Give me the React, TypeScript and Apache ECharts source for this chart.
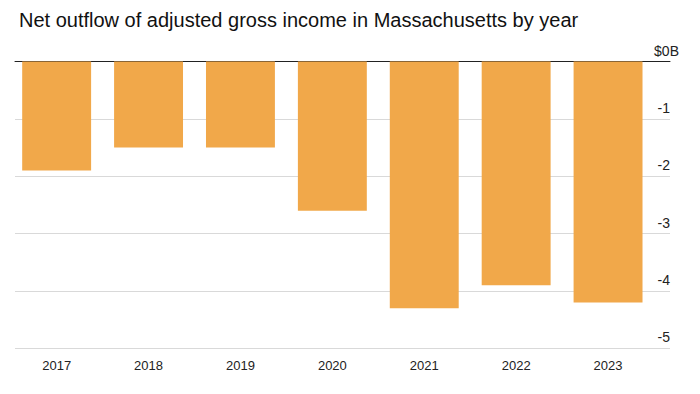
import React, { useEffect, useRef } from "react";
import * as echarts from "echarts";

const years = ["2017", "2018", "2019", "2020", "2021", "2022", "2023"];
const outflow = [-1.9, -1.5, -1.5, -2.6, -4.3, -3.9, -4.2];
const yMin = -5;
const yMax = 0;
const yStep = 1;

const FONT = "'Liberation Sans', Arial, Helvetica, sans-serif";

export default function App() {
  const ref = useRef<HTMLDivElement>(null);
  useEffect(() => {
    if (!ref.current) return;
    const chart = echarts.init(ref.current, undefined, { renderer: "svg" });
    chart.setOption({
      animation: false,
      backgroundColor: "#ffffff",
      title: {
        text: "Net outflow of adjusted gross income in Massachusetts by year",
        left: 14,
        top: 5,
        textStyle: { fontFamily: FONT, fontSize: 20, fontWeight: "normal", color: "#111" },
      },
      grid: [
        { left: 15, right: 30, top: 61.6, bottom: 45.7 },
        { left: 10.7, right: 46, top: 61.6, bottom: 45.7 },
      ],
      xAxis: [
        {
          gridIndex: 0,
          type: "category",
          data: years,
          position: "top",
          axisLine: { show: true, lineStyle: { color: "#222", width: 1 } },
          axisTick: { show: false },
          axisLabel: { show: false },
          splitLine: { show: false },
        },
        {
          gridIndex: 1,
          type: "category",
          data: years,
          position: "bottom",
          axisLine: { show: false },
          axisTick: { show: true, alignWithLabel: true, length: 5, lineStyle: { color: "#333" } },
          axisLabel: { margin: 11, fontFamily: FONT, fontSize: 13, color: "#222" },
          splitLine: { show: false },
        },
      ],
      yAxis: [
        {
          gridIndex: 0,
          type: "value",
          min: yMin,
          max: yMax,
          interval: yStep,
          position: "right",
          axisLine: { show: false },
          axisTick: { show: false },
          splitLine: { show: true, lineStyle: { color: "#d9d9d9", width: 1 } },
          axisLabel: {
            inside: true,
            margin: -9,
            verticalAlign: "bottom",
            padding: [0, 0, 4, 0],
            fontFamily: FONT,
            fontSize: 14,
            color: "#222",
            formatter: (v: number) => (v === 0 ? "$0B" : "{n|" + v + "}"),
            rich: {
              n: { padding: [0, 9, 0, 0], fontFamily: FONT, fontSize: 14, color: "#222" },
            },
          },
        },
        {
          gridIndex: 1,
          type: "value",
          min: yMin,
          max: yMax,
          interval: yStep,
          show: false,
        },
      ],
      series: [
        {
          type: "bar",
          xAxisIndex: 1,
          yAxisIndex: 1,
          data: outflow,
          barWidth: "75%",
          itemStyle: { color: "#F1A84A" },
          z: 1,
        },
      ],
    });
    return () => chart.dispose();
  }, []);
  return <div ref={ref} style={{ width: 700, height: 394, margin: -8 }} />;
}
